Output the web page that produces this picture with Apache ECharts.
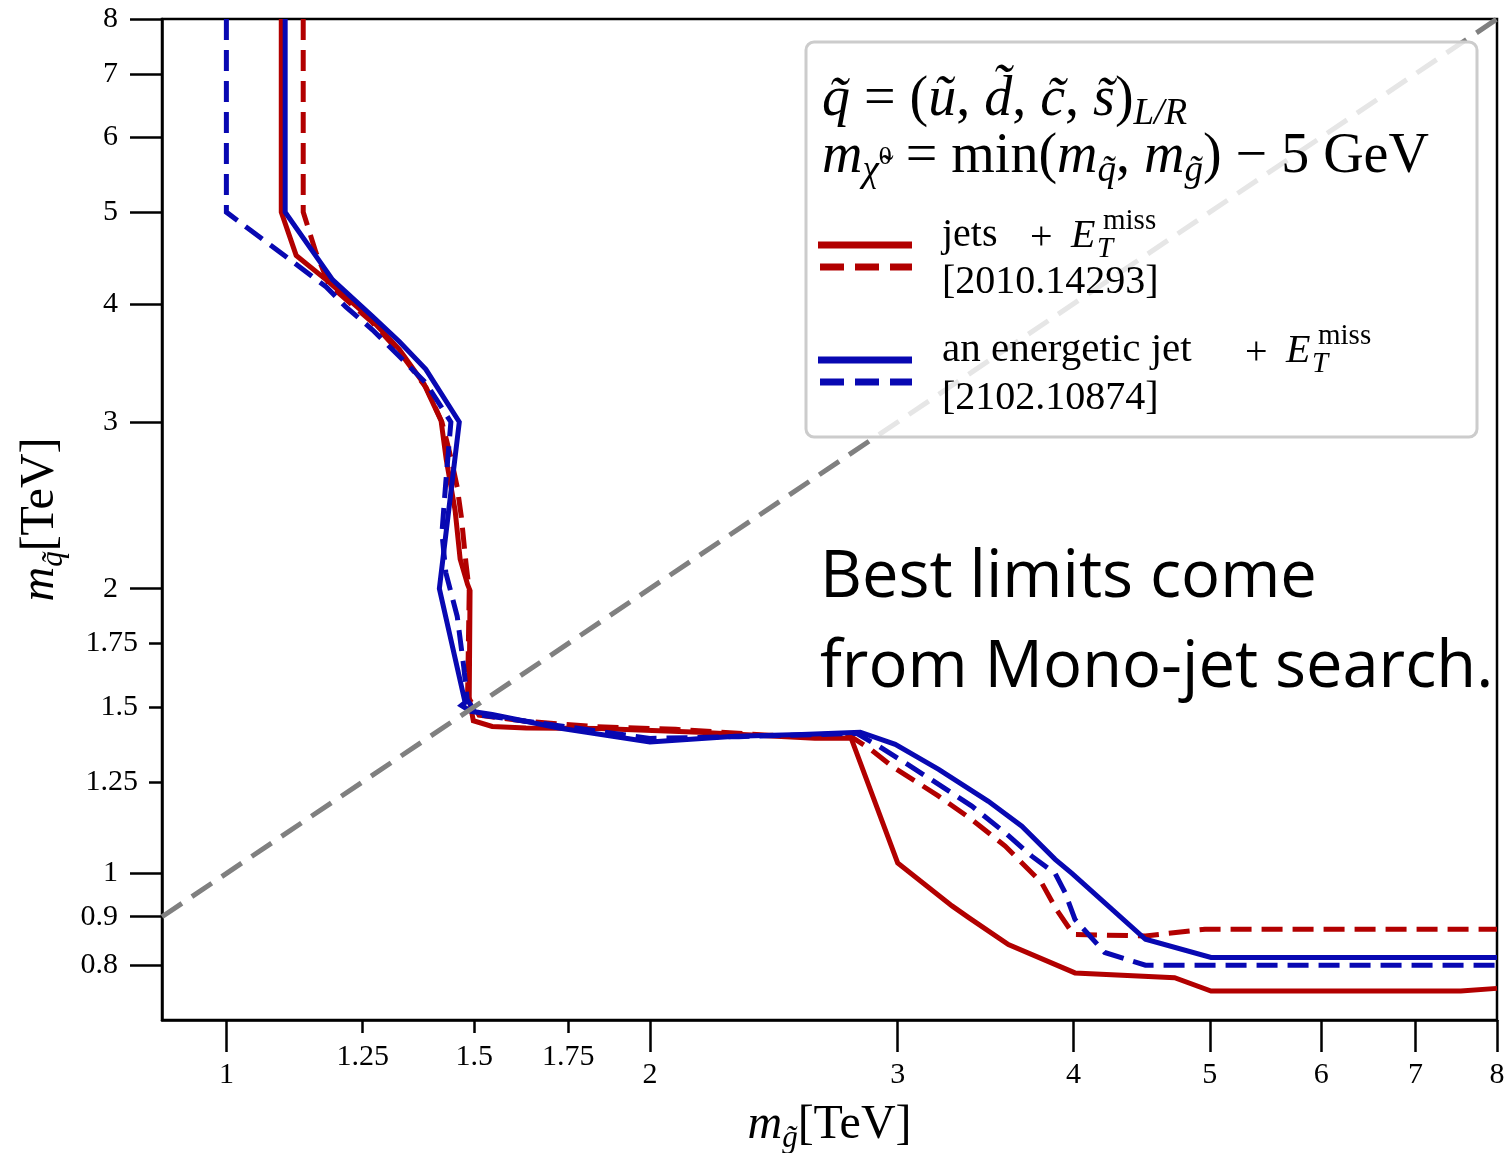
<!DOCTYPE html>
<html><head><meta charset="utf-8">
<script src="https://cdn.jsdelivr.net/npm/echarts@6/dist/echarts.min.js"></script>
<style>html,body{margin:0;padding:0;background:#fff}#c{width:1512px;height:1153px}</style>
</head><body><div id="c"></div>
<script>
// ---- data (TeV) ----
const xMajorTicks = [1, 2, 3, 4, 5, 6, 7, 8];
const xMinorTicks = [1.25, 1.5, 1.75];
const yMajorTicks = [0.8, 0.9, 1, 2, 3, 4, 5, 6, 7, 8];
const yMinorTicks = [1.25, 1.5, 1.75];
const axisMin = { x: 0.9, y: 0.7 };
const axisMax = { x: 8, y: 8 };

// jets + ETmiss [2010.14293], solid
const jetsSolidX = [1.094,1.094,1.121,1.18,1.263,1.327,1.382,1.421,1.433,1.454,1.466,1.484,1.49,1.488,1.498,1.545,1.633,1.84,2.167,2.62,2.78,3.0,3.279,3.37,3.596,4.01,4.72,5.01,7.54,8.0];
const jetsSolidY = [8,5.0,4.5,4.23,3.87,3.58,3.29,3.01,2.74,2.42,2.15,2.02,1.99,1.53,1.45,1.43,1.425,1.423,1.41,1.39,1.39,1.026,0.924,0.898,0.841,0.785,0.776,0.751,0.751,0.756];
// jets + ETmiss [2010.14293], dashed
const jetsDashX = [1.134,1.134,1.158,1.183,1.268,1.327,1.387,1.423,1.445,1.459,1.469,1.48,1.488,1.484,1.512,1.632,1.82,2.086,2.43,2.78,2.875,2.972,3.208,3.387,3.577,3.796,3.89,4.0,4.5,4.96,8.0];
const jetsDashY = [8,5.0,4.53,4.19,3.83,3.56,3.26,3.0,2.74,2.56,2.38,2.13,1.99,1.54,1.47,1.448,1.43,1.42,1.40,1.395,1.35,1.298,1.207,1.14,1.069,0.978,0.916,0.862,0.859,0.873,0.873];
// an energetic jet + ETmiss [2102.10874], solid
const monoSolidX = [1.101,1.101,1.19,1.27,1.327,1.386,1.464,1.417,1.478,1.469,1.492,1.545,1.723,2.0,2.30,2.564,2.822,2.988,3.208,3.48,3.676,3.882,3.99,4.5,5.01,8.0];
const monoSolidY = [8,5.0,4.24,3.88,3.65,3.41,3.0,2.0,1.516,1.505,1.484,1.472,1.425,1.377,1.396,1.402,1.41,1.369,1.288,1.192,1.122,1.035,1.0,0.852,0.815,0.815];
// an energetic jet + ETmiss [2102.10874], dashed
const monoDashX = [1.0,1.0,1.177,1.216,1.27,1.327,1.386,1.444,1.432,1.423,1.432,1.459,1.475,1.483,1.507,1.723,2.0,2.313,2.805,2.909,3.037,3.208,3.387,3.577,3.736,3.882,3.946,4.01,4.21,4.5,8.0];
const monoDashY = [8,5.0,4.17,3.97,3.755,3.52,3.30,3.0,2.59,2.29,2.08,1.87,1.65,1.527,1.472,1.433,1.389,1.395,1.406,1.363,1.309,1.242,1.178,1.104,1.043,1.0,0.954,0.894,0.825,0.8,0.8];
// diagonal m_q = m_g
const diagX = [0.9, 8];
const diagY = [0.9, 8];

const RED = '#b20000', BLUE = '#0808b2';
const SERIF = "'Liberation Serif','DejaVu Serif',serif";
const zip = (a, b) => a.map((v, i) => [v, b[i]]);
const fmt = v => String(Math.round(v * 100) / 100);

const nameRich = {
  m: { fontFamily: SERIF, fontStyle: 'italic', fontSize: 48, lineHeight: 58, color: '#000' },
  s: { fontFamily: SERIF, fontStyle: 'italic', fontSize: 31, lineHeight: 31, verticalAlign: 'bottom', color: '#000' },
  t: { fontFamily: SERIF, fontSize: 48, lineHeight: 58, color: '#000' }
};

function mkAxis(dim, ticks, tickLen, margin, main) {
  return {
    type: 'log', logBase: 10, gridIndex: 0,
    min: axisMin[dim], max: axisMax[dim],
    position: dim === 'x' ? 'bottom' : 'left',
    axisLine: { show: main, onZero: false, lineStyle: { color: '#000', width: 2.5 } },
    axisTick: { show: true, length: tickLen, customValues: ticks, lineStyle: { color: '#000', width: 2.5 } },
    minorTick: { show: false },
    splitLine: { show: false },
    axisLabel: { customValues: ticks, formatter: fmt, margin: margin, fontFamily: SERIF, fontSize: 30, color: '#000' }
  };
}

const xMain = mkAxis('x', xMajorTicks, 32, 40, true);
xMain.name = '{m|m}{s|g̃}{t|[TeV]}';
xMain.nameLocation = 'middle';
xMain.nameGap = 76;
xMain.nameTextStyle = { rich: nameRich };
const yMain = mkAxis('y', yMajorTicks, 32, 44, true);
yMain.name = '{m|m}{s|q̃}{t|[TeV]}';
yMain.nameLocation = 'middle';
yMain.nameGap = 86;
yMain.nameTextStyle = { rich: nameRich };

const lineSeries = (name, xs, ys, color, dashed, z) => ({
  name, type: 'line', xAxisIndex: 0, yAxisIndex: 0,
  data: zip(xs, ys), showSymbol: false, symbol: 'none', z,
  lineStyle: { color, width: 5, type: dashed ? [21, 10] : 'solid', cap: 'butt', join: 'miter' },
  animation: false
});

const legRich = {
  i: { fontFamily: SERIF, fontStyle: 'italic', fontSize: 56, lineHeight: 66, fill: '#000' },
  r: { fontFamily: SERIF, fontSize: 56, lineHeight: 66, fill: '#000' },
  sub: { fontFamily: SERIF, fontStyle: 'italic', fontSize: 37, lineHeight: 39, verticalAlign: 'bottom', fill: '#000' },
  sup0: { fontFamily: SERIF, fontSize: 26, lineHeight: 66, fill: '#000' }
};
const T = (x, y, text, size, italic) => ({
  type: 'text', x, y, z: 102,
  style: { text, fill: '#000', fontFamily: SERIF, fontSize: size, fontStyle: italic ? 'italic' : 'normal', align: 'left', verticalAlign: 'middle' }
});
const L = (x1, x2, y, color, dashed) => ({
  type: 'line', z: 102,
  shape: { x1, y1: y, x2, y2: y },
  style: { stroke: color, lineWidth: 7, lineDash: dashed ? [24, 11] : null }
});

const option = {
  backgroundColor: '#fff',
  animation: false,
  grid: { left: 162, right: 15, top: 19, bottom: 133, outerBoundsMode: 'none', containLabel: false,
          show: true, borderColor: '#000', borderWidth: 2.5, backgroundColor: 'transparent' },
  xAxis: [xMain, mkAxis('x', xMinorTicks, 13, 22, false)],
  yAxis: [yMain, mkAxis('y', yMinorTicks, 13, 24, false)],
  series: [
    lineSeries('jets solid', jetsSolidX, jetsSolidY, RED, false, 3),
    lineSeries('jets dashed', jetsDashX, jetsDashY, RED, true, 4),
    lineSeries('mono solid', monoSolidX, monoSolidY, BLUE, false, 5),
    lineSeries('mono dashed', monoDashX, monoDashY, BLUE, true, 6),
    {
      name: 'diagonal', type: 'line', data: zip(diagX, diagY), showSymbol: false, symbol: 'none', z: 7,
      lineStyle: { color: '#808080', width: 5, type: [24, 12] }, animation: false
    }
  ],
  graphic: [
    { type: 'rect', z: 100, shape: { x: 806, y: 42, width: 671, height: 395, r: 8 },
      style: { fill: 'rgba(255,255,255,0.8)', stroke: '#cccccc', lineWidth: 3 } },
    { type: 'text', x: 822, y: 100, z: 102, style: {
      text: '{i|q̃}{r| = (}{i|ũ}{r|, }{i|d̃}{r|, }{i|c̃}{r|, }{i|s̃}{r|)}{sub|L/R}',
      rich: legRich, align: 'left', verticalAlign: 'middle' } },
    { type: 'text', x: 822, y: 157, z: 102, style: {
      text: '{i|m}{sub|χ̃}{sup0|0}{r| = min(}{i|m}{sub|q̃}{r|, }{i|m}{sub|g̃}{r|) − 5 GeV}',
      rich: legRich, align: 'left', verticalAlign: 'middle' } },
    L(818, 912, 245, RED, false),
    L(820, 912, 267, RED, true),
    T(942, 235, 'jets', 40, false),
    T(1030, 238, '+', 40, false),
    T(1071, 236, 'E', 40, true),
    T(1103, 221, 'miss', 29, false),
    T(1097, 249, 'T', 29, true),
    T(942, 282, '[2010.14293]', 40, false),
    L(818, 912, 360, BLUE, false),
    L(820, 912, 382, BLUE, true),
    T(942, 350, 'an energetic jet', 41, false),
    T(1245, 353, '+', 40, false),
    T(1286, 351, 'E', 40, true),
    T(1318, 336, 'miss', 29, false),
    T(1312, 364, 'T', 29, true),
    T(942, 398, '[2102.10874]', 40, false),
    { type: 'text', x: 820, y: 578, z: 102, style: { text: 'Best limits come', fill: '#000', fontFamily: "'Open Sans',sans-serif", fontSize: 65, align: 'left', verticalAlign: 'middle' } },
    { type: 'text', x: 820, y: 668, z: 102, style: { text: 'from Mono-jet search.', fill: '#000', fontFamily: "'Open Sans',sans-serif", fontSize: 65, align: 'left', verticalAlign: 'middle' } }
  ]
};

const chart = echarts.init(document.getElementById('c'), null, { renderer: 'canvas' });
chart.setOption(option);
</script>
</body></html>
